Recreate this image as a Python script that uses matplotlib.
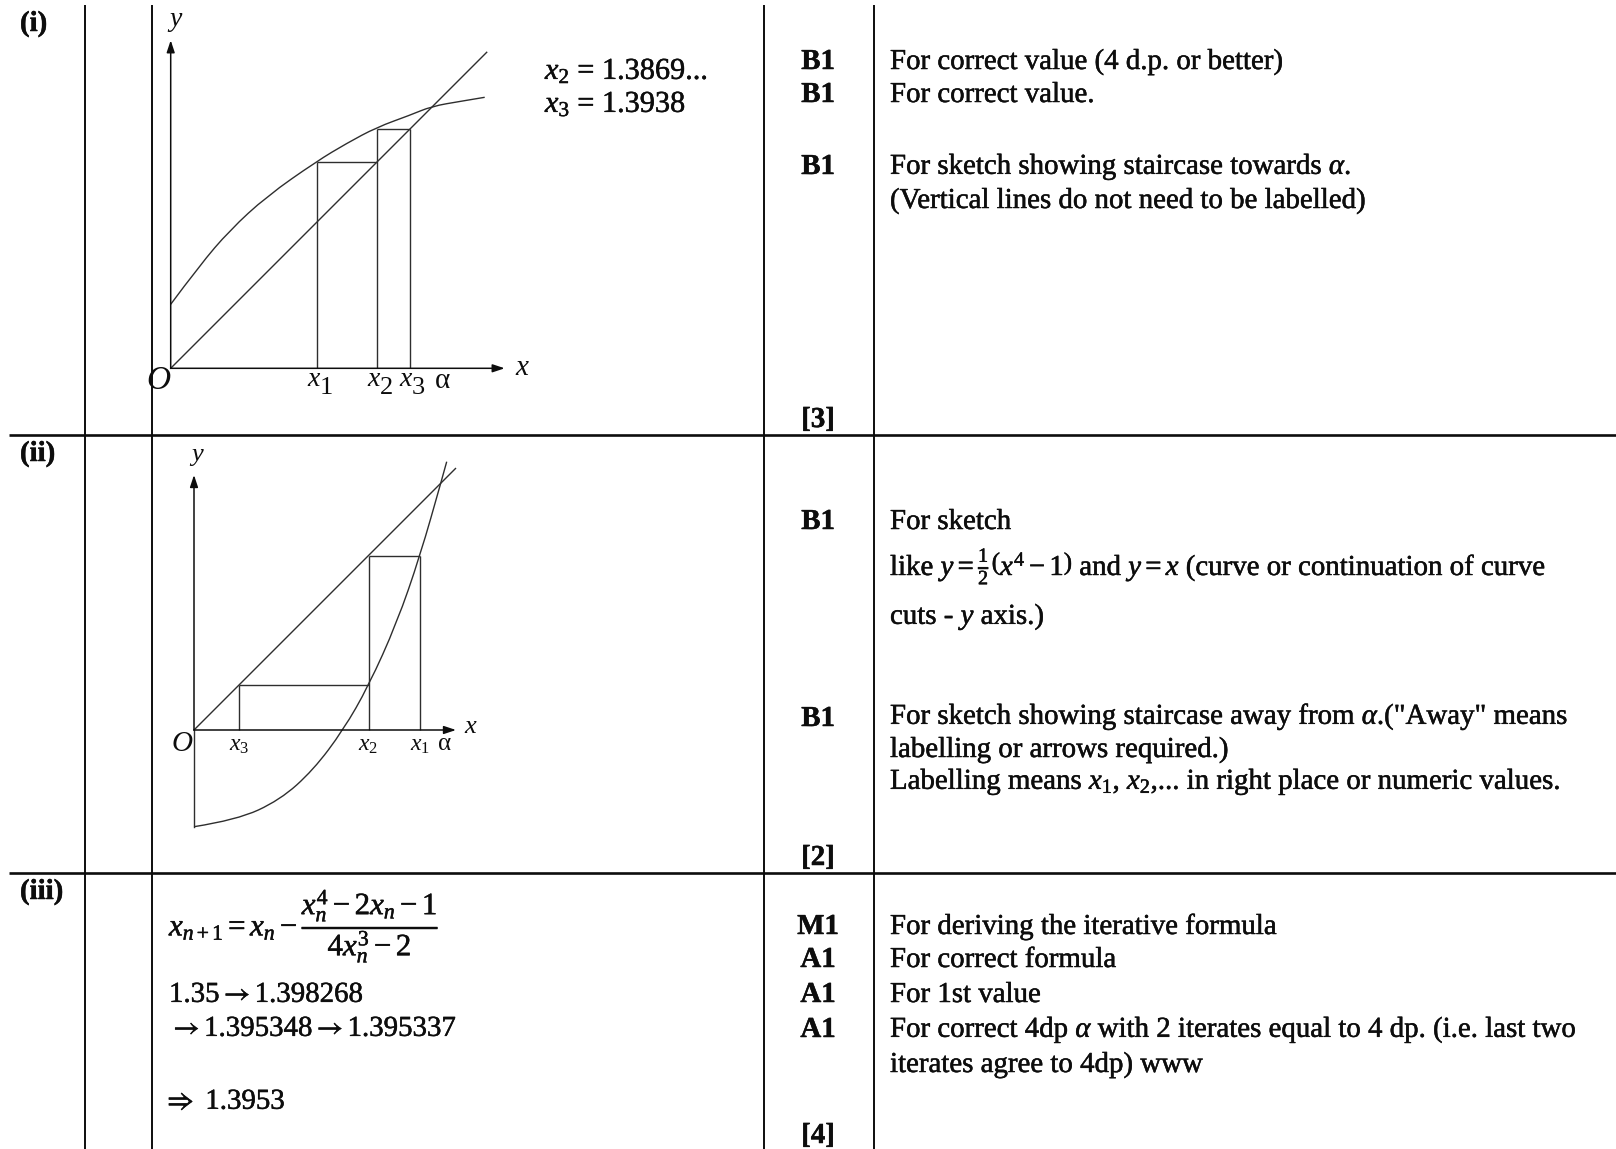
import numpy as np
import matplotlib.pyplot as plt
import matplotlib.patheffects as pe
from matplotlib.path import Path
from matplotlib.patches import PathPatch

plt.rcParams['font.family'] = ['Liberation Serif', 'DejaVu Serif']
plt.rcParams['mathtext.fontset'] = 'custom'
plt.rcParams['mathtext.rm'] = 'Liberation Serif'
plt.rcParams['mathtext.it'] = 'Liberation Serif:italic'
plt.rcParams['mathtext.bf'] = 'Liberation Serif:bold'

W, H = 1616, 1149

# ---------------- data ----------------
part_labels = ['(i)', '(ii)', '(iii)']
part_totals = ['[3]', '[2]', '[4]']

marks_i = ['B1', 'B1', 'B1']
notes_i = ['For correct value (4 d.p. or better)',
           'For correct value.',
           r'For sketch showing staircase towards $\alpha$.',
           '(Vertical lines do not need to be labelled)']
values_i = [r'$x_2$ = 1.3869...', r'$x_3$ = 1.3938']

marks_ii = ['B1', 'B1']
notes_ii = ['For sketch',
            r'like $y=\frac{1}{2}\left(x^4-1\right)$ and $y=x$ (curve or continuation of curve',
            r'cuts - $y$ axis.)',
            r'For sketch showing staircase away from $\alpha$.("Away" means',
            'labelling or arrows required.)',
            r'Labelling means $x_1$, $x_2$,... in right place or numeric values.']

marks_iii = ['M1', 'A1', 'A1', 'A1']
notes_iii = ['For deriving the iterative formula',
             'For correct formula',
             'For 1st value',
             r'For correct 4dp $\alpha$ with 2 iterates equal to 4 dp. (i.e. last two',
             'iterates agree to 4dp) www']
newton_formula = r'$x_{n+1} = x_n - \dfrac{x_n^4 - 2x_n - 1}{4x_n^3 - 2}$'
newton_iterates = [r'1.35$\rightarrow$1.398268', r'$\rightarrow$1.395348$\rightarrow$1.395337']
newton_answer = r'$\Rightarrow$ 1.3953'

# sketch (i): y = (2x+1)^(1/4) against y = x (sketch units)
curve1_x = [0, 29, 59, 96, 146, 176, 206, 239, 261, 290, 314]
curve1_y = [64, 103, 138, 172, 207, 225, 241, 253, 262, 267, 271]
iter1 = [146.7, 206.5, 239]
iter1_subs = ['1', '2', '3']
alpha1 = 261
diag1_end = 316
axis1_tips = (334, 328)

# sketch (ii): y = (x^4-1)/2 against y = x
curve2_x = [0, 42.7, 86, 119.3, 149.3, 174.5, 202.7, 226, 247.7, 252.7]
curve2_y = [-96.7, -90, -70, -40, 0, 44, 106.7, 174, 250, 268.3]
iter2 = [226, 174.5, 45]
iter2_labels = ['$x_1$', '$x_2$', '$x_3$']
alpha2 = 247.7
diag2_end = 261.5
axis2_tips = (262, 255)

# ---------------- drawing ----------------
FS = 20.8
ink = '#0d0d0d'
sk = '#2e2e2e'
heavy = [pe.withStroke(linewidth=0.35, foreground=ink)]

fig = plt.figure(figsize=(W / 100, H / 100), dpi=100)
page = fig.add_axes([0, 0, 1, 1])
page.set_xlim(0, W)
page.set_ylim(H, 0)
page.axis('off')

# table rules
page.vlines([84.5, 151.5, 763.5, 874], 5, H, color=ink, lw=1.4)
page.hlines([435, 873], 9, W, color=ink, lw=1.9)

def put(x, y, s, **kw):
    # y is the visual middle of the line, shift to baseline
    kw.setdefault('fontsize', FS)
    kw.setdefault('color', ink)
    return page.text(x, y + 9, s, va='baseline', path_effects=heavy, **kw)

for lab, y in zip(part_labels, [22, 452, 890]):
    put(20, y, lab, fontweight='bold')

for tot, y in zip(part_totals, [418, 856, 1134]):
    put(818, y, tot, ha='center', fontweight='bold')

for m, y in zip(marks_i, [60, 93, 165]):
    put(818, y, m, ha='center', fontweight='bold')
for s, y in zip(notes_i, [60, 93, 165, 199]):
    put(890, y, s)
for s, y in zip(values_i, [70, 103]):
    put(545, y, s, fontsize=21.8)

for m, y in zip(marks_ii, [520, 717]):
    put(818, y, m, ha='center', fontweight='bold')
for s, y in zip(notes_ii, [520, 566, 615, 715, 748, 780]):
    put(890, y, s)

for m, y in zip(marks_iii, [925, 958, 993, 1028]):
    put(818, y, m, ha='center', fontweight='bold')
for s, y in zip(notes_iii, [925, 958, 993, 1028, 1063]):
    put(890, y, s)

page.text(169, 925, newton_formula, fontsize=22.3, color=ink, va='center', ha='left',
          path_effects=heavy)
for s, y in zip(newton_iterates, [993, 1027]):
    put(169, y, s, math_fontfamily='stix')
put(163, 1100, newton_answer, math_fontfamily='stix')


def sketch_axes(ox, oy, xlim, ylim):
    # ox, oy: pixel position of O in the page, 1 sketch unit = 1 pixel
    left = (ox + xlim[0]) / W
    bottom = (H - oy + ylim[0]) / H
    ax = fig.add_axes([left, bottom, (xlim[1] - xlim[0]) / W, (ylim[1] - ylim[0]) / H])
    ax.set_xlim(xlim)
    ax.set_ylim(ylim)
    ax.axis('off')
    return ax

def axis_arrow(ax, tip):
    ax.annotate('', xy=tip, xytext=(0, 0),
                arrowprops=dict(arrowstyle='-|>,head_length=0.6,head_width=0.2',
                                mutation_scale=12, lw=1.1, color=ink,
                                shrinkA=0, shrinkB=0))

def smooth_curve(ax, xs, ys):
    # quadratic pieces through the read points (points act as guides)
    p = np.column_stack([xs, ys])
    verts = [p[0]]
    codes = [Path.MOVETO]
    for i in range(1, len(p) - 2):
        verts += [p[i], (p[i] + p[i + 1]) / 2]
        codes += [Path.CURVE3, Path.CURVE3]
    verts += [p[-2], p[-1]]
    codes += [Path.CURVE3, Path.CURVE3]
    ax.add_patch(PathPatch(Path(verts, codes), fill=False, edgecolor=sk, lw=1.0))

def staircase(ax, it):
    tops = [it[1]] + [max(a, b) for a, b in zip(it[1:-1], it[2:])] + [it[-1]]
    ax.vlines(it, 0, tops, color=sk, lw=1.0)
    ax.hlines(it[1:], it[:-1], it[1:], color=sk, lw=1.0)

# sketch (i)
ax1 = sketch_axes(170.7, 368.3, (-20, 360), (-45, 345))
axis_arrow(ax1, (axis1_tips[0], 0))
axis_arrow(ax1, (0, axis1_tips[1]))
ax1.plot([0, diag1_end], [0, diag1_end], color=sk, lw=1.0)
smooth_curve(ax1, curve1_x, curve1_y)
staircase(ax1, iter1)
for xv, sub in zip(iter1, iter1_subs):
    ax1.text(xv - 3, -11, '$x$', fontsize=20, ha='center', va='center', color=ink, clip_on=False)
    ax1.text(xv + 9, -20, sub, fontsize=19, ha='center', va='center', color=ink, clip_on=False)
ax1.text(alpha1 + 11, -13, '\u03b1', fontsize=21, ha='center', va='center', color=ink)
ax1.text(-12, -12, '$O$', fontsize=24, ha='center', va='center', color=ink)
ax1.text(axis1_tips[0] + 18, 0, '$x$', fontsize=21, ha='center', va='center', color=ink)
ax1.text(5, 347, '$y$', fontsize=20, ha='center', va='center', color=ink, clip_on=False)

# sketch (ii)
ax2 = sketch_axes(194, 730, (-25, 300), (-110, 290))
axis_arrow(ax2, (axis2_tips[0], 0))
axis_arrow(ax2, (0, axis2_tips[1]))
ax2.plot([0, 0], [curve2_y[0], 0], color=sk, lw=1.0)
ax2.plot([0, diag2_end], [0, diag2_end], color=sk, lw=1.0)
smooth_curve(ax2, curve2_x, curve2_y)
staircase(ax2, iter2)
for xv, lab in zip(iter2, iter2_labels):
    ax2.text(xv, -15, lab, fontsize=17, ha='center', va='center', color=ink)
ax2.text(alpha2 + 3, -14, '\u03b1', fontsize=18, ha='center', va='center', color=ink)
ax2.text(-12, -14, '$O$', fontsize=21, ha='center', va='center', color=ink)
ax2.text(axis2_tips[0] + 15, 3, '$x$', fontsize=19, ha='center', va='center', color=ink)
ax2.text(3, 273, '$y$', fontsize=19, ha='center', va='center', color=ink)

fig.savefig('out.png', dpi=100)
